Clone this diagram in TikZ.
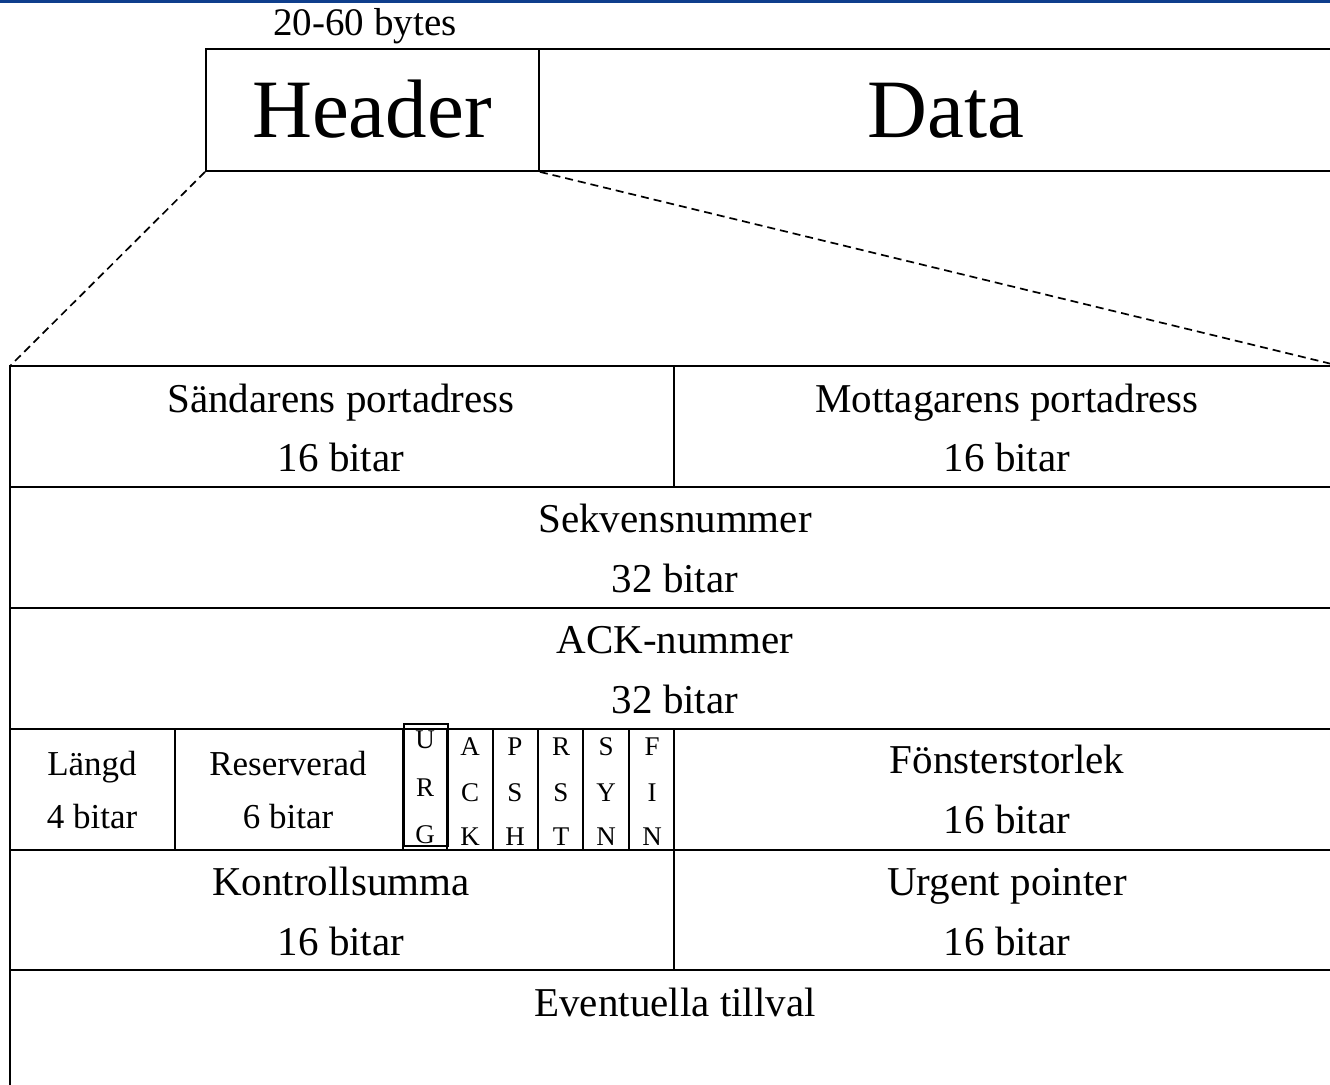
\documentclass[tikz,border=0pt]{standalone}
\usepackage{fontspec}
\setmainfont{Liberation Serif}
\definecolor{bandblue}{HTML}{0E3E8C}
\tikzset{
  box/.style={draw, line width=1.9pt, inner sep=0pt, anchor=north west},
  rowline/.style={line width=2.6pt},
  colline/.style={line width=2pt},
  flagline/.style={line width=1.8pt},
  zoomline/.style={dashed, dash pattern=on 8pt off 5pt, line width=1.7pt},
  txt/.style={anchor=base, inner sep=0pt, font=\fontsize{41}{41}\selectfont},
  small/.style={anchor=base, inner sep=0pt, font=\fontsize{35}{35}\selectfont},
  flag/.style={anchor=base, inner sep=0pt, font=\fontsize{27}{27}\selectfont},
  big/.style={anchor=base, inner sep=0pt, font=\fontsize{83}{83}\selectfont},
  label/.style={anchor=base, inner sep=0pt, font=\fontsize{39}{39}\selectfont}
}
\begin{document}
\begin{tikzpicture}[x=1pt,y=-1pt]
\useasboundingbox (0,0) rectangle (1330,1084);
\clip (0,0) rectangle (1330,1084);
\fill[bandblue] (0,0) rectangle (1330,3);
% segment
\node[box, minimum width=333pt, minimum height=122pt] (hdr) at (205,48) {};
\node[box, minimum width=820pt, minimum height=122pt] (data) at (538,48) {};
\node[label] (bytes) at (365,35) {20-60 bytes};
\node[big] (hdrtxt) at (372,137) {Header};
\node[big] (datatxt) at (946,137) {Data};
% table frame coordinates
\coordinate (tl) at (10,366);
\coordinate (tr) at (1340,366);
\draw[zoomline] (hdr.south west) -- (tl);
\draw[zoomline] (hdr.south east) -- (tr);
% horizontal lines
\draw[rowline] (tl) -- (tr);
\foreach \y in {487,608,729,850,970}{\draw[rowline] (10,\y) -- (1340,\y);}
\draw[rowline] (10,365) -- (10,1090);
% vertical splits
\draw[colline] (674,366) -- (674,487);
\draw[colline] (175,729) -- (175,850);
\draw[colline] (674,729) -- (674,970);
\foreach \x in {447,493,538,583,629}{\draw[flagline] (\x,729) -- (\x,850);}
\draw[flagline] (403,729) -- (403,850);
\node[draw, line width=1.6pt, inner sep=0pt, minimum width=44pt, minimum height=122pt, anchor=north west] (urgbox) at (403,723) {};
% row 1
\node[txt] (src) at (341,412) {Sändarens portadress};
\node[txt] (srcb) at (341,471) {16 bitar};
\node[txt] (dst) at (1007,412) {Mottagarens portadress};
\node[txt] (dstb) at (1007,471) {16 bitar};
% row 2
\node[txt] (seq) at (675,532) {Sekvensnummer};
\node[txt] (seqb) at (675,592) {32 bitar};
% row 3
\node[txt] (ack) at (675,653) {ACK-nummer};
\node[txt] (ackb) at (675,713) {32 bitar};
% row 4
\node[small] (len) at (92,775) {Längd};
\node[small] (lenb) at (92,828) {4 bitar};
\node[small] (res) at (288,775) {Reserverad};
\node[small] (resb) at (288,828) {6 bitar};
\node[flag] (u1) at (425,748) {U};
\node[flag] (u2) at (425,796) {R};
\node[flag] (u3) at (425,843) {G};
\node[flag] (a1) at (470,755) {A};
\node[flag] (a2) at (470,801) {C};
\node[flag] (a3) at (470,845) {K};
\node[flag] (p1) at (515,755) {P};
\node[flag] (p2) at (515,801) {S};
\node[flag] (p3) at (515,845) {H};
\node[flag] (r1) at (561,755) {R};
\node[flag] (r2) at (561,801) {S};
\node[flag] (r3) at (561,845) {T};
\node[flag] (s1) at (606,755) {S};
\node[flag] (s2) at (606,801) {Y};
\node[flag] (s3) at (606,845) {N};
\node[flag] (f1) at (652,755) {F};
\node[flag] (f2) at (652,801) {I};
\node[flag] (f3) at (652,845) {N};
\node[txt] (win) at (1007,773) {Fönsterstorlek};
\node[txt] (winb) at (1007,833) {16 bitar};
% row 5
\node[txt] (chk) at (341,895) {Kontrollsumma};
\node[txt] (chkb) at (341,955) {16 bitar};
\node[txt] (urg) at (1007,895) {Urgent pointer};
\node[txt] (urgb) at (1007,955) {16 bitar};
% row 6
\node[txt] (opt) at (675,1016) {Eventuella tillval};
\end{tikzpicture}
\end{document}
